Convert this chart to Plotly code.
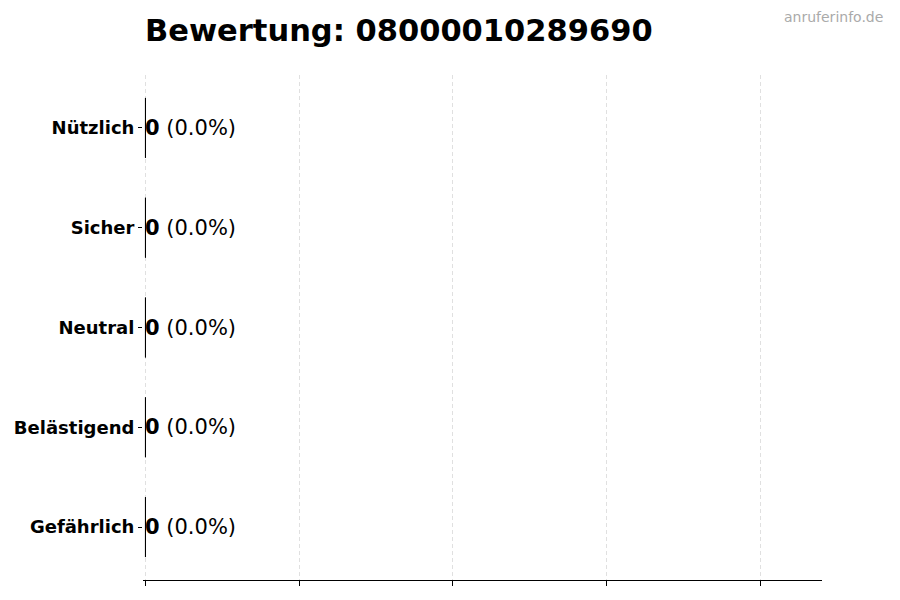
import plotly.graph_objects as go

categories = ["Gefährlich", "Belästigend", "Neutral", "Sicher", "Nützlich"]
counts = [0, 0, 0, 0, 0]
percents = [0.0, 0.0, 0.0, 0.0, 0.0]
title_text = "Bewertung: 08000010289690"
watermark = "anruferinfo.de"

FONT = "DejaVu Sans"

fig = go.Figure()
fig.add_trace(go.Bar(
    x=counts, y=categories, orientation="h", width=0.6,
    marker=dict(color="#cccccc", line=dict(color="black", width=1)),
    hoverinfo="skip", showlegend=False,
))

xmax = 1.1
for c, n, p in zip(categories, counts, percents):
    fig.add_annotation(
        x=n, y=c, xref="x", yref="y",
        text=f"<b>{n}</b> ({p:.1f}%)",
        showarrow=False, xanchor="left", yanchor="middle", xshift=-2,
        font=dict(family=FONT, size=21, color="black"),
    )

fig.add_annotation(
    x=1, y=1, xref="paper", yref="paper", xanchor="right", yanchor="middle",
    xshift=63, yshift=58,
    text=watermark, showarrow=False,
    font=dict(family=FONT, size=14, color="#aaaaaa"),
)

fig.update_layout(
    width=900, height=600,
    margin=dict(l=135, r=86, t=67, b=28, autoexpand=False),
    plot_bgcolor="white", paper_bgcolor="white",
    title=dict(text=f"<b>{title_text}</b>", x=137/900, xanchor="left",
               y=1 - 22/600, yanchor="middle",
               font=dict(family=FONT, size=30.5, color="black")),
    font=dict(family=FONT, color="black"),
)
fig.update_xaxes(
    range=[-0.004, xmax], tickvals=[0, 0.25, 0.5, 0.75, 1.0], showticklabels=False,
    ticks="outside", ticklen=5, tickcolor="black",
    showline=True, linecolor="black", linewidth=1,
    showgrid=True, gridcolor="#e0e0e0", griddash="4px,3px", gridwidth=1,
    zeroline=False, fixedrange=True, automargin=False,
)
fig.update_yaxes(
    categoryorder="array", categoryarray=categories,
    range=[-0.53, 4.53],
    ticks="outside", ticklen=4, tickcolor="black",
    showline=False, showgrid=False, zeroline=False, automargin=False,
    tickfont=dict(family=FONT, size=18, color="black", weight="bold"),
    ticklabelstandoff=0,
)

fig.write_html("out.html")
